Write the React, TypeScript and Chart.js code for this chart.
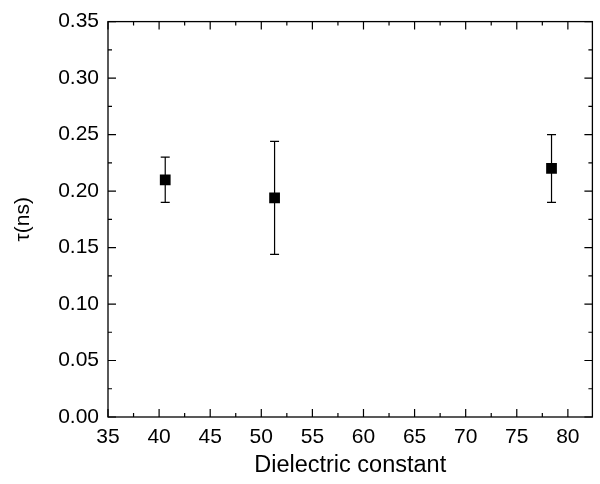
import React, { useEffect, useRef } from "react";
import { Chart, registerables } from "chart.js";

Chart.register(...registerables);

const dielectric = [40.6, 51.3, 78.4];
const tau = [0.21, 0.194, 0.22];
const tauErr = [0.02, 0.05, 0.03];
const xTickValues = [35, 40, 45, 50, 55, 60, 65, 70, 75, 80];
const yTickValues = [0, 0.05, 0.1, 0.15, 0.2, 0.25, 0.3, 0.35];
const xMinorValues = [37.5, 42.5, 47.5, 52.5, 57.5, 62.5, 67.5, 72.5, 77.5, 82.5];
const yMinorValues = [0.025, 0.075, 0.125, 0.175, 0.225, 0.275, 0.325];

const FONT = "'Liberation Sans', Arial, sans-serif";

const errorBarPlugin = {
  id: "errorBars",
  beforeDatasetsDraw(chart: any) {
    const { ctx, scales } = chart;
    const xs = scales.x, ys = scales.y;
    ctx.save();
    ctx.strokeStyle = "#000";
    ctx.lineWidth = 1.2;
    dielectric.forEach((xv, i) => {
      const px = xs.getPixelForValue(xv);
      const top = ys.getPixelForValue(tau[i] + tauErr[i]);
      const bot = ys.getPixelForValue(tau[i] - tauErr[i]);
      ctx.beginPath();
      ctx.moveTo(px, top);
      ctx.lineTo(px, bot);
      ctx.moveTo(px - 4.5, top);
      ctx.lineTo(px + 4.5, top);
      ctx.moveTo(px - 4.5, bot);
      ctx.lineTo(px + 4.5, bot);
      ctx.stroke();
    });
    ctx.restore();
  },
};

const framePlugin = {
  id: "frame",
  afterDraw(chart: any) {
    const { ctx, chartArea: a, scales } = chart;
    const xs = scales.x, ys = scales.y;
    ctx.save();
    ctx.strokeStyle = "#000";
    ctx.lineWidth = 1.3;
    ctx.strokeRect(a.left, a.top, a.right - a.left, a.bottom - a.top);
    ctx.lineWidth = 1.2;
    ctx.beginPath();
    const xt = (v: number, len: number) => {
      const p = xs.getPixelForValue(v);
      if (p < a.left - 0.5 || p > a.right + 0.5) return;
      ctx.moveTo(p, a.bottom);
      ctx.lineTo(p, a.bottom - len);
      ctx.moveTo(p, a.top);
      ctx.lineTo(p, a.top + len);
    };
    const yt = (v: number, len: number) => {
      const p = ys.getPixelForValue(v);
      if (p < a.top - 0.5 || p > a.bottom + 0.5) return;
      ctx.moveTo(a.left, p);
      ctx.lineTo(a.left + len, p);
      ctx.moveTo(a.right, p);
      ctx.lineTo(a.right - len, p);
    };
    xTickValues.forEach((v) => xt(v, 8));
    xMinorValues.forEach((v) => xt(v, 4));
    yTickValues.forEach((v) => yt(v, 8));
    yMinorValues.forEach((v) => yt(v, 4));
    ctx.stroke();
    ctx.restore();
  },
};

export default function App() {
  const ref = useRef<HTMLCanvasElement>(null);
  useEffect(() => {
    document.body.style.margin = "0";
    const chart = new Chart(ref.current!, {
      type: "scatter",
      data: {
        datasets: [
          {
            data: dielectric.map((x, i) => ({ x, y: tau[i] })),
            pointStyle: "rect",
            pointRadius: 7.6,
            backgroundColor: "#000",
            borderColor: "#000",
            borderWidth: 0,
          },
        ],
      },
      options: {
        responsive: false,
        animation: false,
        layout: { padding: { top: 21, right: 1, left: 0, bottom: 0 } },
        plugins: { legend: { display: false }, tooltip: { enabled: false } },
        scales: {
          x: {
            type: "linear",
            min: 35,
            max: 82.4,
            grid: { display: false, drawTicks: false },
            border: { display: false },
            afterBuildTicks: (s: any) => {
              s.ticks = xTickValues.map((v) => ({ value: v }));
            },
            afterFit: (s: any) => {
              s.height = 67;
            },
            ticks: {
              color: "#000",
              padding: 8,
              maxRotation: 0,
              autoSkip: false,
              font: { family: FONT, size: 21 },
              callback: (v: any) => String(v),
            },
            title: {
              display: true,
              text: "Dielectric constant",
              color: "#000",
              font: { family: FONT, size: 23.5 },
              padding: { top: 0, bottom: 4 },
            },
          },
          y: {
            type: "linear",
            min: 0,
            max: 0.35,
            grid: { display: false, drawTicks: false },
            border: { display: false },
            afterBuildTicks: (s: any) => {
              s.ticks = yTickValues.map((v) => ({ value: v }));
            },
            afterFit: (s: any) => {
              s.width = 108;
            },
            ticks: {
              color: "#000",
              padding: 9,
              autoSkip: false,
              font: { family: FONT, size: 21 },
              callback: (v: any) => Number(v).toFixed(2),
            },
            title: {
              display: true,
              text: "τ(ns)",
              color: "#000",
              font: { family: FONT, size: 21 },
              padding: { top: 11, bottom: 0 },
            },
          },
        },
      },
      plugins: [errorBarPlugin, framePlugin],
    } as any);
    return () => chart.destroy();
  }, []);
  return <canvas ref={ref} width={600} height={484} style={{ display: "block" }} />;
}
